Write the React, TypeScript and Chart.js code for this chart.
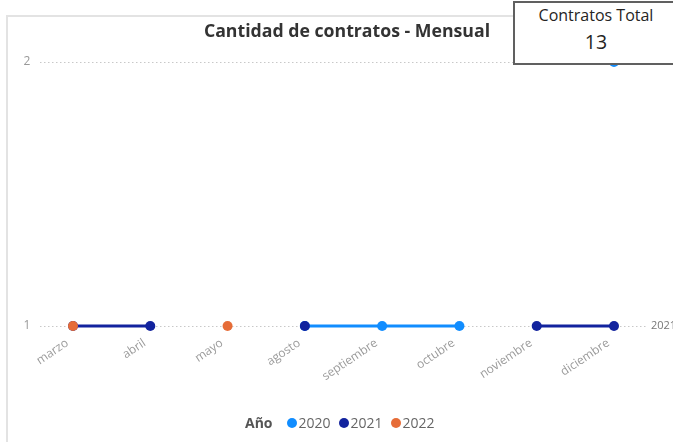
import React, { useEffect, useRef } from "react";
import { Chart, registerables } from "chart.js";

Chart.register(...registerables);

const months = ["marzo", "abril", "mayo", "agosto", "septiembre", "octubre", "noviembre", "diciembre"];
const y2020 = [null, null, null, 1, 1, 1, null, 2];
const y2021 = [1, 1, null, 1, null, null, 1, 1];
const y2022 = [1, null, 1, null, null, null, null, null];
const yTicks = [1, 2];
const seriesNames = ["2020", "2021", "2022"];
const seriesColors = ["#118DFF", "#12239E", "#E66C37"];
const chartTitle = "Cantidad de contratos - Mensual";
const cardLabel = "Contratos Total";
const cardValue = "13";
const legendTitle = "Año";

const FONT = "'Open Sans', 'DejaVu Sans', sans-serif";

const overlayPlugin = {
  id: "overlay",
  beforeDatasetsDraw(chart: any) {
    const ctx = chart.ctx;
    const ys = chart.scales.y;
    ctx.save();
    ctx.strokeStyle = "#c8c8c8";
    ctx.lineWidth = 1;
    ctx.setLineDash([1.5, 2.5]);
    yTicks.forEach((v) => {
      const y = Math.round(ys.getPixelForValue(v)) + 0.5;
      ctx.beginPath();
      ctx.moveTo(40, y);
      ctx.lineTo(647, y);
      ctx.stroke();
    });
    ctx.setLineDash([]);
    ctx.fillStyle = "#999";
    ctx.font = `12px ${FONT}`;
    ctx.textAlign = "center";
    ctx.textBaseline = "middle";
    yTicks.forEach((v) => {
      ctx.fillText(String(v), 27, ys.getPixelForValue(v));
    });
    // x labels rotated
    const xs = chart.scales.x;
    ctx.fillStyle = "#9a9a9a";
    ctx.font = `12px ${FONT}`;
    ctx.textAlign = "right";
    ctx.textBaseline = "top";
    const base = ys.getPixelForValue(1);
    months.forEach((m, i) => {
      const x = xs.getPixelForValue(i);
      ctx.save();
      ctx.translate(x - 9, base + 11);
      ctx.rotate((-34 * Math.PI) / 180);
      ctx.fillText(m, 0, 0);
      ctx.restore();
    });
    ctx.restore();
  },
  afterDatasetsDraw(chart: any) {
    const ctx = chart.ctx;
    const ys = chart.scales.y;
    ctx.save();
    ctx.fillStyle = "#777";
    ctx.font = `11px ${FONT}`;
    ctx.textAlign = "left";
    ctx.textBaseline = "middle";
    const series = [y2020, y2021, y2022];
    series.forEach((s, i) => {
      const last = s[s.length - 1];
      if (last != null) {
        ctx.fillText(seriesNames[i], 651, ys.getPixelForValue(last));
      }
    });
    ctx.restore();
  },
};

export default function App() {
  const ref = useRef<HTMLCanvasElement>(null);
  useEffect(() => {
    const series = [y2020, y2021, y2022];
    const chart = new Chart(ref.current!, {
      type: "line",
      data: {
        labels: months,
        datasets: series.map((d, i) => ({
          label: seriesNames[i],
          data: d as any,
          borderColor: seriesColors[i],
          backgroundColor: seriesColors[i],
          pointBackgroundColor: seriesColors[i],
          pointBorderColor: seriesColors[i],
          borderWidth: 3,
          pointRadius: 5,
          pointHoverRadius: 5,
          pointBorderWidth: 0,
          spanGaps: false,
          clip: false as any,
          order: 3 - i,
        })),
      },
      options: {
        responsive: false,
        animation: false,
        layout: { padding: { left: 34.35, right: 20.35, top: 62, bottom: 116 } },
        plugins: { legend: { display: false }, tooltip: { enabled: false }, title: { display: false } },
        scales: {
          x: { display: false, offset: true },
          y: { display: false, min: 1, max: 2 },
        },
      },
      plugins: [overlayPlugin],
    });
    return () => chart.destroy();
  }, []);

  const dot = (c: string) => (
    <span style={{ display: "inline-block", width: 10, height: 10, borderRadius: 5, background: c, marginRight: 2 }} />
  );

  return (
    <div style={{ position: "fixed", left: 0, top: 0, width: 673, height: 442, background: "#fff", overflow: "hidden", fontFamily: FONT }}>
      <div style={{ position: "absolute", left: 6, top: 15, width: 700, height: 440, borderLeft: "2px solid #e3e3e3", borderTop: "2px solid #e3e3e3" }} />
      <canvas ref={ref} width={673} height={442} style={{ position: "absolute", left: 0, top: 0 }} />
      <div style={{ position: "absolute", left: 97, width: 500, top: 18, textAlign: "center", fontWeight: 700, fontSize: 17.7, color: "#333", lineHeight: "25px", whiteSpace: "nowrap" }}>
        {chartTitle}
      </div>
      <div style={{ position: "absolute", left: 513, top: 1, width: 162, height: 60, border: "2px solid #606060", background: "#fff" }}>
        <div style={{ position: "absolute", left: 0, width: 162, top: 1, textAlign: "center", fontSize: 16, color: "#252423", lineHeight: "22px", whiteSpace: "nowrap" }}>{cardLabel}</div>
        <div style={{ position: "absolute", left: 0, width: 162, top: 26, textAlign: "center", fontSize: 19.5, color: "#252423", lineHeight: "26px" }}>{cardValue}</div>
      </div>
      <div style={{ position: "absolute", left: 245, top: 414, display: "flex", alignItems: "center", fontSize: 14, color: "#666", lineHeight: "18px", whiteSpace: "nowrap" }}>
        <span style={{ fontWeight: 700, color: "#555", marginRight: 14 }}>{legendTitle}</span>
        {seriesNames.map((n, i) => (
          <span key={n} style={{ display: "inline-flex", alignItems: "center", marginRight: 8 }}>
            {dot(seriesColors[i])}
            {n}
          </span>
        ))}
      </div>
    </div>
  );
}
